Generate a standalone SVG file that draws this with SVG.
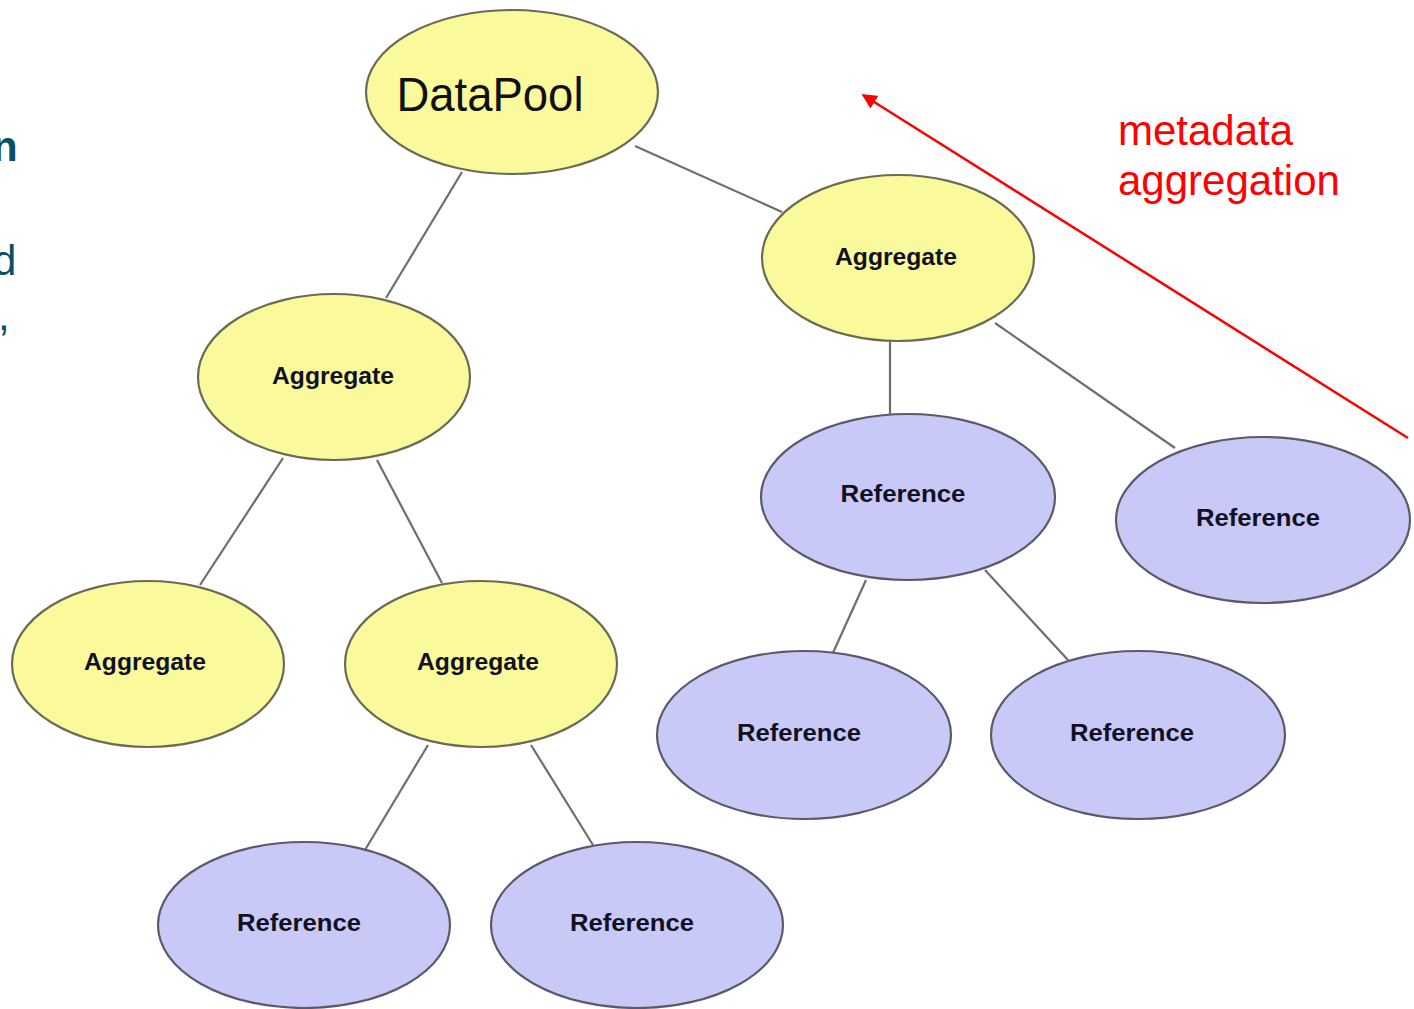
<svg xmlns="http://www.w3.org/2000/svg" width="1414" height="1009" viewBox="0 0 1414 1009">
<defs>
<style>
.agg{fill:#fafa9c;stroke:#6b6b55;stroke-width:2.2}
.ref{fill:#c9c9f8;stroke:#5a5a6a;stroke-width:2.2}
.lbl{font-family:"Liberation Sans",Arial,sans-serif;font-weight:bold;font-size:24px;fill:#111122;text-anchor:middle}
.edge{stroke:#6e6e6e;stroke-width:2.2;fill:none}
.red{font-family:"Liberation Sans",Arial,sans-serif;font-size:42px;fill:#ff0000}
.side{font-family:"Liberation Sans",Arial,sans-serif;font-size:42px;fill:#0b4f62}
</style>
<marker id="ah" viewBox="0 0 10 10" refX="9" refY="5" markerWidth="6" markerHeight="6" orient="auto" markerUnits="strokeWidth">
<path d="M0,0 L10,5 L0,10 z" fill="#ff0000"/>
</marker>
</defs>
<rect width="1414" height="1009" fill="#ffffff"/>
<g id="side-text">
<text class="side" x="-8" y="161" font-weight="bold">n</text>
<text class="side" x="-7" y="275">d</text>
<text class="side" x="-2" y="330">,</text>
</g>
<g id="connectors">
<line class="edge" x1="462" y1="172" x2="386" y2="298"/>
<line class="edge" x1="635" y1="146" x2="782" y2="212"/>
<line class="edge" x1="890" y1="342" x2="890" y2="414"/>
<line class="edge" x1="995" y1="323" x2="1175" y2="448"/>
<line class="edge" x1="283" y1="458" x2="200" y2="585"/>
<line class="edge" x1="377" y1="460" x2="442" y2="583"/>
<line class="edge" x1="428" y1="745" x2="365" y2="850"/>
<line class="edge" x1="531" y1="745" x2="593" y2="845"/>
<line class="edge" x1="866" y1="580" x2="832" y2="655"/>
<line class="edge" x1="985" y1="570" x2="1068" y2="660"/>
<line x1="1408" y1="438" x2="863" y2="95" stroke="#ff0000" stroke-width="2.5" marker-end="url(#ah)"/>
</g>
<g id="datapool">
<ellipse class="agg" cx="512" cy="92" rx="146" ry="82"/>
<text x="490" y="111" font-family="Liberation Sans,Arial,sans-serif" font-size="48" fill="#111111" text-anchor="middle" textLength="187" lengthAdjust="spacingAndGlyphs">DataPool</text>
</g>
<g id="agg-right">
<ellipse class="agg" cx="898" cy="258" rx="136" ry="83"/>
<text class="lbl" x="896" y="265" textLength="122" lengthAdjust="spacingAndGlyphs">Aggregate</text>
</g>
<g id="agg-left">
<ellipse class="agg" cx="334" cy="377" rx="136" ry="83"/>
<text class="lbl" x="333" y="384" textLength="122" lengthAdjust="spacingAndGlyphs">Aggregate</text>
</g>
<g id="agg-bl">
<ellipse class="agg" cx="148" cy="664" rx="136" ry="83"/>
<text class="lbl" x="145" y="670" textLength="122" lengthAdjust="spacingAndGlyphs">Aggregate</text>
</g>
<g id="agg-mid">
<ellipse class="agg" cx="481" cy="664" rx="136" ry="83"/>
<text class="lbl" x="478" y="670" textLength="122" lengthAdjust="spacingAndGlyphs">Aggregate</text>
</g>
<g id="ref-1">
<ellipse class="ref" cx="908" cy="497" rx="147" ry="83"/>
<text class="lbl" x="903" y="502" textLength="125" lengthAdjust="spacingAndGlyphs">Reference</text>
</g>
<g id="ref-2">
<ellipse class="ref" cx="1263" cy="520" rx="147" ry="83"/>
<text class="lbl" x="1258" y="526" textLength="124" lengthAdjust="spacingAndGlyphs">Reference</text>
</g>
<g id="ref-3">
<ellipse class="ref" cx="804" cy="735" rx="147" ry="84"/>
<text class="lbl" x="799" y="741" textLength="124" lengthAdjust="spacingAndGlyphs">Reference</text>
</g>
<g id="ref-4">
<ellipse class="ref" cx="1138" cy="735" rx="147" ry="84"/>
<text class="lbl" x="1132" y="741" textLength="124" lengthAdjust="spacingAndGlyphs">Reference</text>
</g>
<g id="ref-5">
<ellipse class="ref" cx="304" cy="925" rx="146" ry="83"/>
<text class="lbl" x="299" y="931" textLength="124" lengthAdjust="spacingAndGlyphs">Reference</text>
</g>
<g id="ref-6">
<ellipse class="ref" cx="637" cy="925" rx="146" ry="83"/>
<text class="lbl" x="632" y="931" textLength="124" lengthAdjust="spacingAndGlyphs">Reference</text>
</g>
<g id="note">
<text class="red" x="1118" y="145">metadata</text>
<text class="red" x="1118" y="195">aggregation</text>
</g>
</svg>
